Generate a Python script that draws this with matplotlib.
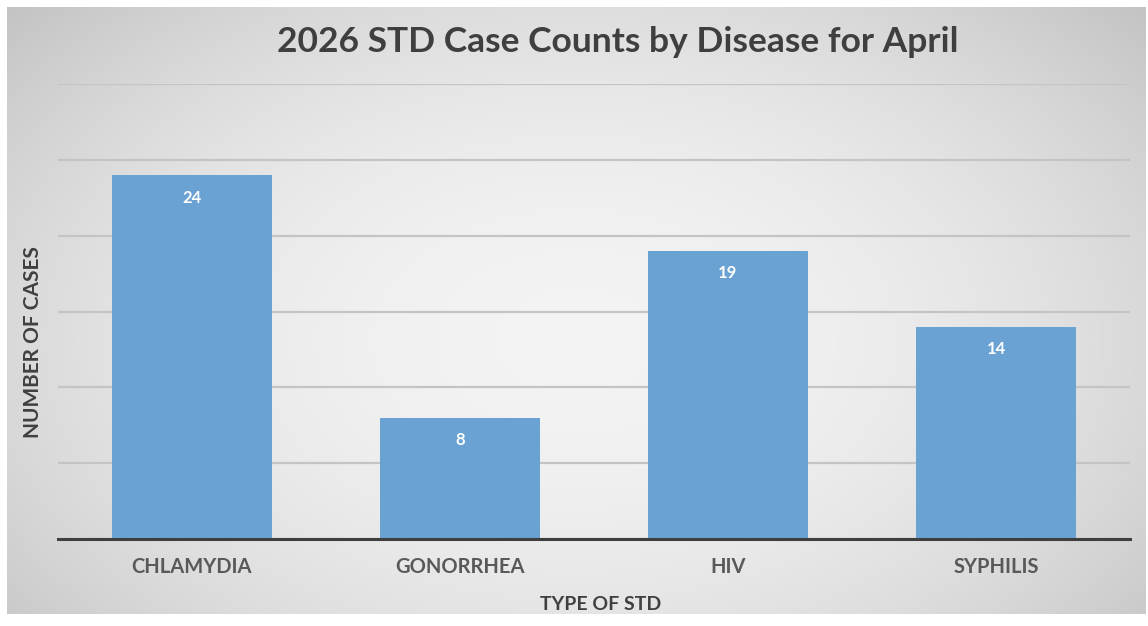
import numpy as np
import matplotlib
matplotlib.use("Agg")
import matplotlib.pyplot as plt

# Data
diseases = ["CHLAMYDIA", "GONORRHEA", "HIV", "SYPHILIS"]
case_counts = [24, 8, 19, 14]
y_ticks = [0, 5, 10, 15, 20, 25, 30]

title_text = "2026 STD Case Counts by Disease for April"
x_label = "TYPE OF STD"
y_label = "NUMBER OF CASES"

W, H = 1148, 626
plt.rcParams["font.family"] = ["Lato", "DejaVu Sans"]

fig = plt.figure(figsize=(W / 100, H / 100), dpi=100, facecolor="white")

# Radial grey gradient panel behind the chart
bg = fig.add_axes([7 / W, 12 / H, (1146 - 7) / W, (626 - 7 - 12) / H])
bg.set_axis_off()
yy, xx = np.mgrid[0:1:300j, 0:1:600j]
r = np.sqrt(((xx - 0.5) / 0.62) ** 2 + ((yy - 0.55) / 0.75) ** 2)
shade = 0.955 - 0.16 * np.clip(r, 0, 1.2) ** 2
img = np.dstack([shade, shade, shade])
bg.imshow(img, aspect="auto", extent=[0, 1, 0, 1], interpolation="bilinear")
bg.set_xlim(0, 1)
bg.set_ylim(0, 1)

# Main bar chart
ax = fig.add_axes([58 / W, (626 - 539) / H, (1130 - 58) / W, (539 - 84) / H])
ax.patch.set_alpha(0)
x = np.arange(len(diseases))
bars = ax.bar(x, case_counts, width=0.6, color="#6aa2d4", zorder=3)

ax.set_xlim(-0.5, len(diseases) - 0.5)
ax.set_ylim(y_ticks[0], y_ticks[-1])
ax.set_yticks(y_ticks)
ax.yaxis.grid(True, color="#c4c4c4", linewidth=1.6, zorder=1)
ax.set_axisbelow(True)
ax.tick_params(axis="y", length=0, labelleft=False)
ax.tick_params(axis="x", length=0, pad=13)
ax.set_xticks(x)
ax.set_xticklabels(diseases, fontsize=14.5, fontweight="bold", color="#595959")

for side in ["left", "right", "top"]:
    ax.spines[side].set_visible(False)
ax.spines["bottom"].set_color("#3f3f3f")
ax.spines["bottom"].set_linewidth(2.2)
ax.spines["bottom"].set_zorder(4)

for rect, val in zip(bars, case_counts):
    ax.annotate(str(val), (rect.get_x() + rect.get_width() / 2, val),
                xytext=(0, -22), textcoords="offset points",
                ha="center", va="bottom", fontsize=12, fontweight="bold",
                color="white", zorder=5)

fig.text(618 / W, 1 - 42 / H, title_text, ha="center", va="center",
         fontsize=25.5, fontweight="bold", color="#3f3f3f")
fig.text(601 / W, 1 - 604 / H, x_label, ha="center", va="center",
         fontsize=14, fontweight="bold", color="#404040")
fig.text(33 / W, 1 - 342 / H, y_label, ha="center", va="center",
         rotation=90, fontsize=15, fontweight="bold", color="#404040")

fig.savefig("out.png", dpi=100, facecolor="white")
